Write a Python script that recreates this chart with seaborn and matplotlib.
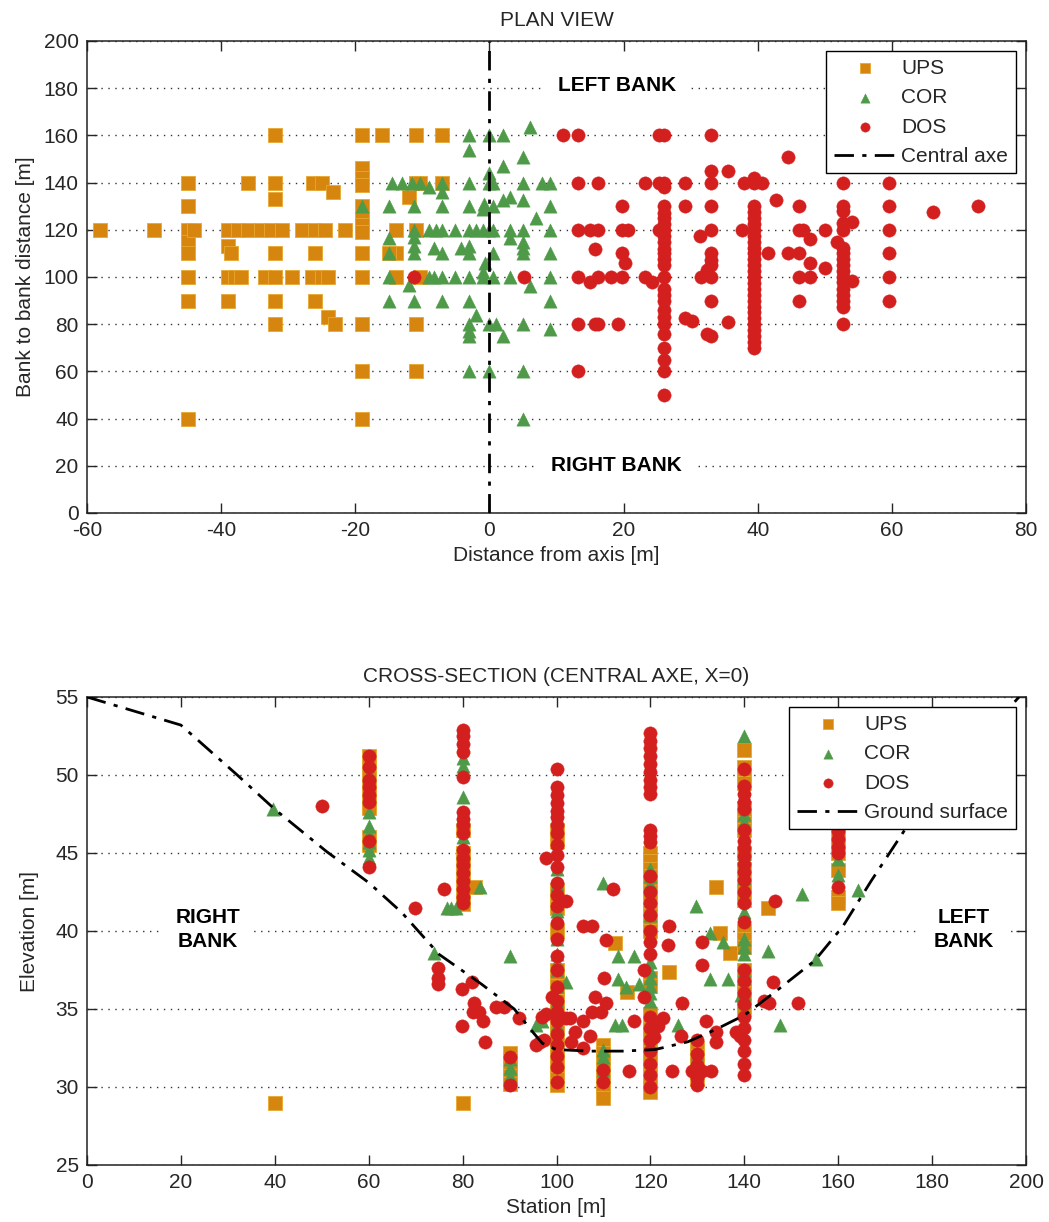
import matplotlib
matplotlib.use("Agg")
import matplotlib.pyplot as plt
import seaborn as sns

# ---------------- PLAN VIEW data ----------------
plan_ups_x = [-58, -50,
              -45, -45, -45, -45, -45, -45, -45, -45, -44,
              -39, -37.5, -36, -34, -39, -38.5, -39, -38, -37, -39, -36,
              -32, -32, -32, -32.5, -31, -32, -33.5, -32, -29.5, -32, -32,
              -28, -26.3, -25, -26, -24.5, -26, -26.5, -25, -24, -26, -24, -23, -23.3, -21.5,
              -19, -19, -19, -19, -19, -19, -19, -19, -19, -19, -19, -19, -19,
              -16, -11, -7, -14, -14, -14, -15,
              -11, -10.3, -12, -11, -10.3, -11, -11, -7]
plan_ups_y = [120, 120,
              140, 130, 120, 115, 110, 100, 90, 40, 120,
              120, 120, 120, 120, 113, 110, 100, 100, 100, 90, 140,
              160, 140, 133, 120, 120, 110, 100, 100, 100, 90, 80,
              120, 140, 140, 120, 120, 110, 100, 100, 100, 90, 83, 80, 136, 120,
              160, 146, 142, 139, 130, 125, 122, 119, 110, 100, 80, 60, 40,
              160, 160, 160, 120, 110, 100, 110,
              140, 140, 134, 120, 100, 80, 60, 140]

plan_cor_x = [-3, 0, 2, 6, -3, 5, 2, 0,
              -14.5, -13, -11.6, -10.4, -9, -7, -3, 0, 0.6, 5, 7.8, 9,
              -7, 3, 2, 5, -0.8,
              -19, -15, -11.2, -7, -3, -1, 0.6, 9, 7,
              -11.2, -9, -8, -7, -5.2, -3, -2, -1, 0, 0.6, 3, 5, 9,
              -15, -11.2, -11.2, 3,
              -15, -11.2, -8.2, -7, -4.2, -3, -3, 0.6, 5, 5, 5, 9, -0.7, -1,
              -15, -12, -9, -8.2, -7, -5.2, -3, -1, 0.6, 3, 9, 6,
              -15, -11.2, -7, -3, 9,
              -3, -3, -3, -2, 0, 1, 2, 5, 9,
              -3, 0, 5, 5]
plan_cor_y = [160, 160, 160, 163.5, 154, 151, 147, 144,
              140, 140, 140, 140, 138, 140, 140, 140, 140, 140, 140, 140,
              136, 134, 132.5, 132.5, 131,
              130, 130, 130, 130, 130, 129, 130, 130, 125,
              120, 120, 120, 120, 120, 120, 120, 120, 120, 120, 120, 120, 120,
              116.5, 117, 113, 116.5,
              110, 110, 112.5, 110, 112.5, 113, 110, 110, 115, 112.5, 110, 110, 106, 102,
              100, 96.6, 100, 100, 100, 100, 100, 100, 100, 100, 100, 96,
              90, 90, 90, 90, 90,
              80, 77, 75, 84, 80, 80, 75, 80, 78,
              60, 60, 60, 40]

plan_dos_x = [11, 13.2, 25.3, 26.1, 33, 44.5, 33, 35.5, 39.4,
              13.2, 16.2, 23.2, 25.3, 26.1, 26.1, 29.2, 33, 38, 39.4, 40.6, 52.7, 59.6, 42.7,
              19.7, 26.1, 26.1, 26.1, 26.1, 29.2, 33, 39.4, 39.4, 39.4, 39.4, 46.2, 52.7, 52.7, 59.6, 66.2, 72.8,
              13.2, 15, 16.2, 19.7, 20.7, 25.3, 26.1, 26.1, 26.1, 31.4, 33, 37.6, 39.4, 39.4, 39.4,
              46.2, 46.7, 47.8, 50, 51.8, 52.7, 52.7, 54, 59.6,
              15.7, 19.7, 20.2, 26.1, 26.1, 26.1, 26.1, 33, 33, 33, 39.4, 39.4, 39.4, 39.4, 41.6, 44.5,
              46.2, 47.8, 50, 52.7, 52.7, 52.7, 52.7, 59.6,
              -11.2, 5.1, 13.2, 15, 16.2, 18.2, 19.7, 23.2, 24.2, 26.1, 31.5, 32.4, 33, 39.4, 39.4, 39.4,
              46.2, 47.8, 52.7, 52.7, 52.7, 54, 59.6,
              26.1, 26.1, 26.1, 26.1, 33, 39.4, 39.4, 39.4, 39.4, 39.4, 46.2, 52.7, 52.7, 52.7, 52.7, 59.6,
              13.2, 15.7, 16.2, 19.2, 26.1, 26.1, 29.2, 30.2, 35.5, 39.4, 39.4, 52.7,
              26.1, 26.1, 26.1, 26.1, 26.1, 32.5, 33, 39.4, 39.4, 39.4, 39.4, 13.2]
plan_dos_y = [160, 160, 160, 160, 160, 151, 145, 145, 142,
              140, 140, 140, 140, 140, 138, 140, 140, 140, 140, 140, 140, 140, 132.6,
              130, 130, 127, 125, 122.5, 130, 130, 130, 127.5, 125, 122.5, 130, 130, 128, 130, 127.7, 130,
              120, 120, 120, 120, 120, 120, 120, 117.5, 115, 117.5, 120, 120, 120, 117.5, 115,
              120, 120, 116, 120, 115, 123, 120, 123.5, 120,
              112, 110, 106, 112, 110, 107.5, 105, 110, 107, 105, 112.5, 110, 107.5, 105, 110, 110,
              110, 106, 104, 112.5, 110, 107.5, 105, 110,
              100, 100, 100, 98, 100, 100, 100, 100, 98, 100, 100, 103, 100, 102.5, 100, 97.5,
              100, 100, 102.5, 100, 98, 98.5, 100,
              95, 92.5, 90, 86, 90, 95, 92.5, 90, 87.5, 85, 90, 95, 92.5, 90, 87.5, 90,
              80, 80, 80, 80, 83, 80, 82.5, 81.5, 81, 82.5, 80, 80,
              76, 70, 65, 60, 50, 76, 75, 77.5, 75, 72.5, 70, 60]

central_axe_x = [0, 0]
central_axe_y = [0, 200]

# ---------------- CROSS-SECTION data ----------------
sec_ups_x = ([40] + [60] * 10 + [80] * 9 + [80, 82.6] + [90] * 5 + [100] * 22 + [110] * 8
             + [112.4, 115, 124, 133.9, 134.8, 137, 145] + [120] * 24 + [130] * 5 + [140] * 22 + [160] * 6)
sec_ups_y = ([29.0]
             + [51.2, 50.8, 50.3, 49.8, 49.3, 48.8, 48.3, 47.9, 46.0, 45.5]
             + [46.5, 45.0, 44.5, 44.0, 43.5, 43.0, 42.5, 42.0, 41.7]
             + [29.0, 42.8]
             + [32.2, 31.7, 31.2, 30.7, 30.2]
             + [46.5, 45.8, 42.6, 42.0, 41.5, 40.0, 37.5, 37.0, 36.5, 36.0, 35.5, 35.0, 34.5, 34.0,
                33.5, 33.0, 32.5, 32.0, 31.5, 31.0, 30.5, 30.1]
             + [32.7, 32.2, 31.7, 31.2, 30.7, 30.2, 29.7, 29.3]
             + [39.2, 36.1, 37.4, 42.8, 39.9, 38.6, 41.5]
             + [45.0, 44.5, 44.0, 43.5, 43.0, 42.5, 42.0, 41.5, 41.0, 40.5, 40.0, 37.0, 36.5, 34.7,
                34.2, 33.7, 33.2, 32.7, 32.2, 31.7, 31.2, 30.7, 30.2, 29.7]
             + [32.5, 32.0, 31.5, 31.0, 30.5]
             + [51.6, 50.5, 50.0, 49.5, 47.9, 47.4, 46.9, 46.5, 45.0, 44.0, 43.0, 42.5, 42.0, 40.0,
                39.5, 39.0, 37.5, 37.0, 36.5, 36.0, 35.5, 35.0]
             + [46.0, 45.5, 45.0, 43.9, 42.2, 41.8])

sec_cor_x = ([39.6] + [60] * 8 + [76.6, 77.6, 78.7] + [80] * 5 + [83.6, 74, 90] + [90] * 3
             + [95.7, 97] + [100] * 16 + [102] + [110] * 4
             + [109.9, 113.2, 116.5, 113, 114.8, 117.6, 114, 112.5] + [120] * 11
             + [125.9, 129.7, 132.6, 135.5, 132.6, 136.6, 139.3] + [130] * 3 + [140] * 15
             + [145, 147.5, 152.3, 155.3] + [160] * 2 + [164.3])
sec_cor_y = ([47.8]
             + [50.0, 48.5, 47.6, 46.7, 46.2, 45.7, 45.2, 44.7]
             + [41.5, 41.5, 41.5]
             + [51.1, 50.6, 48.6, 46.0, 45.0]
             + [42.8, 38.6, 38.4]
             + [31.8, 31.2, 30.7]
             + [34.0, 34.2]
             + [45.7, 45.2, 44.0, 43.0, 41.8, 41.3, 39.5, 38.5, 38.0, 37.5, 36.5, 35.5, 35.0, 34.5, 34.0, 33.0]
             + [36.7]
             + [32.4, 31.9, 31.5, 31.1]
             + [43.1, 38.4, 38.4, 36.9, 36.4, 36.6, 34.0, 34.0]
             + [44.0, 43.5, 43.0, 41.5, 41.0, 38.0, 37.5, 37.0, 36.5, 36.0, 35.5]
             + [34.0, 41.6, 39.9, 39.3, 36.9, 36.9, 35.9]
             + [32.2, 31.6, 31.1]
             + [52.5, 47.5, 47.0, 45.0, 44.2, 43.4, 41.2, 39.5, 39.0, 38.5, 37.5, 37.0, 36.0, 35.5, 34.9]
             + [38.7, 34.0, 42.4, 38.2]
             + [44.6, 43.6]
             + [42.6])

sec_dos_x = ([50] + [60] * 8 + [69.8, 74.7, 74.7, 74.7, 76, 79.8, 79.8] + [80] * 17
             + [82, 82.5, 82.2, 83.5, 84.3, 84.7, 87.2, 88.9, 92] + [90] * 2
             + [95.6, 96.5, 97, 97.8, 97.4, 97.8, 99] + [100] * 27
             + [102, 102, 102.8, 103.1, 103.9, 105.7, 105.7, 107.2, 107.6, 109.5, 108.3, 110.6, 110.2,
                110.6, 105.7, 107.5] + [110] * 2
             + [112.1, 115.5, 116.6, 118.7, 118.6] + [120] * 26
             + [121.7, 122.7, 120.8, 123.8, 124, 126.7, 126.6, 124.6, 128.9] + [130] * 5
             + [130.9, 130.9, 130.9, 131.8, 132.9, 133.9, 133.9, 138.2, 139.1] + [140] * 25
             + [144.3, 145.2, 146.2, 146.5, 151.5] + [160] * 5)
sec_dos_y = ([48.0]
             + [51.2, 50.5, 49.7, 49.2, 48.7, 48.3, 45.8, 44.1]
             + [41.5, 37.6, 37.0, 36.6, 42.7, 36.3, 33.9]
             + [52.9, 52.5, 52.0, 51.5, 49.9, 47.6, 47.2, 46.8, 46.3, 45.2, 44.7, 44.2, 43.7, 43.2, 42.7, 42.2, 41.8]
             + [36.7, 35.4, 34.8, 34.8, 34.2, 32.9, 35.1, 35.1, 34.4]
             + [31.9, 30.1]
             + [32.7, 32.9, 34.5, 34.7, 33.0, 44.7, 35.8]
             + [50.4, 49.2, 48.7, 48.2, 47.7, 47.3, 46.8, 46.3, 45.5, 44.9, 44.1, 43.1, 42.3, 41.6, 40.5,
                39.5, 38.4, 37.5, 36.4, 35.5, 34.8, 34.2, 33.4, 32.7, 32.0, 31.3, 30.3]
             + [41.9, 34.4, 34.4, 32.9, 33.5, 34.2, 32.5, 33.3, 34.8, 34.8, 35.8, 35.4, 37.0, 39.4, 40.3, 40.3]
             + [31.1, 30.3]
             + [42.7, 31.0, 34.2, 35.8, 37.5]
             + [52.7, 52.2, 51.7, 51.2, 50.7, 50.2, 49.7, 49.2, 48.8, 46.5, 46.1, 45.7, 43.5, 42.5, 41.8,
                41.0, 40.0, 39.3, 38.5, 34.5, 33.8, 33.0, 32.3, 31.5, 30.8, 30.0]
             + [33.9, 34.4, 33.2, 39.1, 40.3, 35.4, 33.3, 31.0, 31.0]
             + [33.0, 32.1, 31.4, 30.6, 30.1]
             + [39.3, 37.8, 31.0, 34.2, 31.0, 33.5, 32.9, 33.5, 33.3]
             + [50.4, 49.3, 48.8, 48.3, 47.8, 46.5, 45.8, 45.3, 44.8, 44.3, 43.8, 43.3, 42.5, 41.8, 40.6,
                37.5, 36.8, 36.0, 35.3, 34.5, 33.8, 33.0, 32.3, 31.5, 30.8]
             + [35.5, 35.4, 36.7, 41.9, 35.4]
             + [46.4, 45.9, 45.4, 45.0, 42.8])

ground_x = [0, 20, 32, 40, 51, 60, 67, 75, 84, 91, 95, 97, 100, 107, 114, 121, 128, 134,
            140, 147, 155, 161, 167, 174, 182, 190, 198.5]
ground_y = [55, 53.2, 50.0, 47.8, 45.1, 43.1, 41.2, 38.5, 36.6, 35.0, 33.5, 32.8, 32.4, 32.3,
            32.3, 32.4, 32.9, 33.7, 34.6, 36.2, 38.1, 40.3, 43.2, 46.4, 49.3, 52.1, 55]

plan_xticks = list(range(-60, 81, 20))
plan_yticks = list(range(0, 201, 20))
sec_xticks = list(range(0, 201, 20))
sec_yticks = list(range(25, 56, 5))

# ---------------- styling ----------------
sns.set_theme(style="ticks")
plt.rcParams["font.family"] = ["Liberation Sans", "DejaVu Sans"]
plt.rcParams["axes.unicode_minus"] = False
plt.rcParams["text.color"] = "#262626"
plt.rcParams["axes.labelcolor"] = "#262626"
plt.rcParams["xtick.color"] = "#262626"
plt.rcParams["ytick.color"] = "#262626"

C_UPS = "#D6860F"
C_COR = "#4E9A48"
C_DOS = "#D41F1F"
FS = 15
MS = 92
DASHDOT = (0, (7, 3, 1.5, 3))

fig = plt.figure(figsize=(10.49, 12.22), dpi=100)
ax1 = fig.add_axes([87 / 1049, 1 - 513 / 1222, 939 / 1049, 472 / 1222])
ax2 = fig.add_axes([87 / 1049, 1 - 1165 / 1222, 939 / 1049, 468 / 1222])


def style_axes(ax, xt, yt, xlim, ylim):
    ax.set_xlim(*xlim)
    ax.set_ylim(*ylim)
    ax.set_xticks(xt)
    ax.set_yticks(yt)
    ax.tick_params(direction="in", length=7, width=1, top=True, right=True,
                   labelsize=FS, pad=6, colors="#262626")
    for s in ax.spines.values():
        s.set_visible(True)
        s.set_color("#222222")
        s.set_linewidth(1.1)
    ax.yaxis.grid(True, linestyle=(0, (1, 4)), color="#333333", linewidth=1.0)
    ax.xaxis.grid(False)
    ax.set_axisbelow(True)


def scatter_all(ax, ux, uy, cx, cy, dx, dy):
    sns.scatterplot(x=ux, y=uy, ax=ax, marker="s", color=C_UPS, s=MS, edgecolor="#E8A830",
                    linewidth=0.6, label="UPS", zorder=3)
    sns.scatterplot(x=cx, y=cy, ax=ax, marker="^", color=C_COR, s=MS, edgecolor=C_COR,
                    linewidth=0.3, label="COR", zorder=3)
    sns.scatterplot(x=dx, y=dy, ax=ax, marker="o", color=C_DOS, s=MS, edgecolor=C_DOS,
                    linewidth=0.3, label="DOS", zorder=3)


# PLAN VIEW
scatter_all(ax1, plan_ups_x, plan_ups_y, plan_cor_x, plan_cor_y, plan_dos_x, plan_dos_y)
sns.lineplot(x=central_axe_x, y=central_axe_y, ax=ax1, sort=False, estimator=None,
             color="black", linewidth=2, linestyle=DASHDOT, label="Central axe", zorder=4)
style_axes(ax1, plan_xticks, plan_yticks, (-60, 80), (0, 200))
ax1.set_title("PLAN VIEW", fontsize=FS, pad=11, color="#262626")
ax1.set_xlabel("Distance from axis [m]", fontsize=FS, labelpad=4)
ax1.set_ylabel("Bank to bank distance [m]", fontsize=FS, labelpad=6)
bbox = dict(facecolor="white", edgecolor="none", pad=10)
ax1.text(19, 181, "LEFT BANK", ha="center", va="center", fontsize=FS, fontweight="bold",
         color="black", bbox=bbox, zorder=2)
ax1.text(19, 20, "RIGHT BANK", ha="center", va="center", fontsize=FS, fontweight="bold",
         color="black", bbox=bbox, zorder=2)

# CROSS-SECTION
scatter_all(ax2, sec_ups_x, sec_ups_y, sec_cor_x, sec_cor_y, sec_dos_x, sec_dos_y)
sns.lineplot(x=ground_x, y=ground_y, ax=ax2, sort=False, estimator=None,
             color="black", linewidth=2, linestyle=DASHDOT, label="Ground surface", zorder=4)
style_axes(ax2, sec_xticks, sec_yticks, (0, 200), (25, 55))
ax2.set_title("CROSS-SECTION (CENTRAL AXE, X=0)", fontsize=FS, pad=11, color="#262626")
ax2.set_xlabel("Station [m]", fontsize=FS, labelpad=4)
ax2.set_ylabel("Elevation [m]", fontsize=FS, labelpad=12)
ax2.text(25.7, 40.1, "RIGHT\nBANK", ha="center", va="center", fontsize=FS, fontweight="bold",
         color="black", bbox=bbox, zorder=2, linespacing=1.3)
ax2.text(186.8, 40.1, "LEFT\nBANK", ha="center", va="center", fontsize=FS, fontweight="bold",
         color="black", bbox=bbox, zorder=2, linespacing=1.3)

for ax in (ax1, ax2):
    leg = ax.legend(loc="upper right", fontsize=FS, frameon=True, fancybox=False,
                    framealpha=1, edgecolor="black", scatterpoints=1, markerscale=0.7,
                    handlelength=3.0, handletextpad=0.25, labelspacing=0.5,
                    borderpad=0.35, borderaxespad=0.5)
    leg.get_frame().set_linewidth(1.0)
    leg.set_zorder(10)

fig.savefig("out.png", dpi=100)
